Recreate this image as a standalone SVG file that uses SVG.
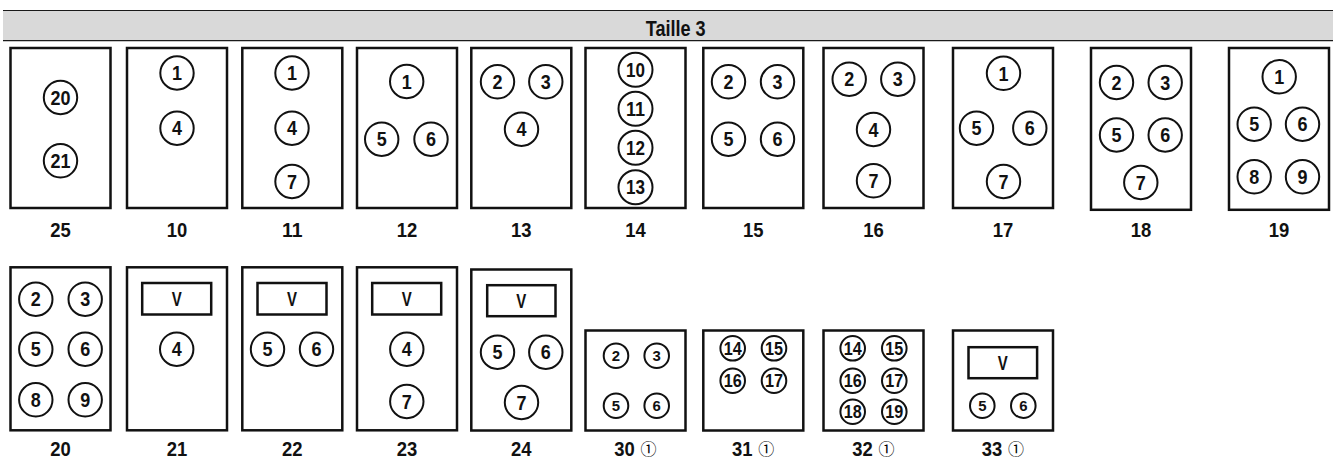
<svg xmlns="http://www.w3.org/2000/svg" width="1333" height="458" viewBox="0 0 1333 458">
<style>
.bg{fill:#fff}
.hdr{fill:#d9d9d9}
.hl{stroke:#1a1a1a;fill:none}
.box{fill:#fff;stroke:#111;stroke-width:2.5}
.v{fill:#fff;stroke:#111;stroke-width:2.5}
.c{fill:#fff;stroke:#111;stroke-width:2}
.n{font-family:"Liberation Sans",Arial,sans-serif;font-weight:bold;font-size:20px;text-anchor:middle;fill:#111}
.s{font-family:"Liberation Sans",Arial,sans-serif;font-weight:bold;font-size:15.5px;text-anchor:middle;fill:#111}
.s2{font-family:"Liberation Sans",Arial,sans-serif;font-weight:bold;font-size:17.5px;text-anchor:middle;fill:#111}
.lb{font-family:"Liberation Sans",Arial,sans-serif;font-weight:bold;font-size:21px;text-anchor:middle;fill:#111}
.o{font-family:"Noto Sans CJK JP","DejaVu Sans",sans-serif;font-size:16px;text-anchor:middle;fill:#000}
.t{font-family:"Liberation Sans",Arial,sans-serif;font-weight:bold;font-size:22px;text-anchor:middle;fill:#111}
</style>
<rect class="bg" x="0" y="0" width="1333" height="458"/>
<g id="header">
<rect class="hdr" x="3" y="10.5" width="1330" height="30"/>
<line class="hl" x1="3" y1="10.5" x2="1333" y2="10.5" stroke-width="1"/>
<line class="hl" x1="3" y1="40.6" x2="1333" y2="40.6" stroke-width="1.3"/>
<text class="t" x="675.7" y="35.8" textLength="60" lengthAdjust="spacingAndGlyphs">Taille 3</text>
</g>

<g id="box-25">
<rect class="box" x="10.5" y="48" width="100" height="160"/>
<circle class="c" cx="60.5" cy="97.5" r="16.7"/><text class="n" x="60.5" y="104.7" textLength="20" lengthAdjust="spacingAndGlyphs">20</text>
<circle class="c" cx="60.5" cy="160.8" r="16.7"/><text class="n" x="60.5" y="168" textLength="20" lengthAdjust="spacingAndGlyphs">21</text>
<text class="lb" x="60.5" y="237.3" textLength="20.5" lengthAdjust="spacingAndGlyphs">25</text>
</g>

<g id="box-10">
<rect class="box" x="127" y="48" width="100" height="160"/>
<circle class="c" cx="177" cy="73" r="16.7"/><text class="n" x="177" y="80.2" textLength="10" lengthAdjust="spacingAndGlyphs">1</text>
<circle class="c" cx="177" cy="128.2" r="16.7"/><text class="n" x="177" y="135.4" textLength="10" lengthAdjust="spacingAndGlyphs">4</text>
<text class="lb" x="177" y="237.3" textLength="20.5" lengthAdjust="spacingAndGlyphs">10</text>
</g>

<g id="box-11">
<rect class="box" x="242.3" y="48" width="100" height="160"/>
<circle class="c" cx="292" cy="73" r="16.7"/><text class="n" x="292" y="80.2" textLength="10" lengthAdjust="spacingAndGlyphs">1</text>
<circle class="c" cx="292" cy="128.2" r="16.7"/><text class="n" x="292" y="135.4" textLength="10" lengthAdjust="spacingAndGlyphs">4</text>
<circle class="c" cx="292" cy="181.5" r="16.7"/><text class="n" x="292" y="188.7" textLength="10" lengthAdjust="spacingAndGlyphs">7</text>
<text class="lb" x="292.3" y="237.3" textLength="20.5" lengthAdjust="spacingAndGlyphs">11</text>
</g>

<g id="box-12">
<rect class="box" x="357" y="48" width="100" height="160"/>
<circle class="c" cx="406.7" cy="81.5" r="16.7"/><text class="n" x="406.7" y="88.7" textLength="10" lengthAdjust="spacingAndGlyphs">1</text>
<circle class="c" cx="381.7" cy="139.2" r="16.7"/><text class="n" x="381.7" y="146.4" textLength="10" lengthAdjust="spacingAndGlyphs">5</text>
<circle class="c" cx="431" cy="139.2" r="16.7"/><text class="n" x="431" y="146.4" textLength="10" lengthAdjust="spacingAndGlyphs">6</text>
<text class="lb" x="407" y="237.3" textLength="20.5" lengthAdjust="spacingAndGlyphs">12</text>
</g>

<g id="box-13">
<rect class="box" x="471.3" y="48" width="100" height="160"/>
<circle class="c" cx="497.5" cy="81.8" r="16.7"/><text class="n" x="497.5" y="89" textLength="10" lengthAdjust="spacingAndGlyphs">2</text>
<circle class="c" cx="545.8" cy="81.8" r="16.7"/><text class="n" x="545.8" y="89" textLength="10" lengthAdjust="spacingAndGlyphs">3</text>
<circle class="c" cx="521.5" cy="129.2" r="16.7"/><text class="n" x="521.5" y="136.4" textLength="10" lengthAdjust="spacingAndGlyphs">4</text>
<text class="lb" x="521.3" y="237.3" textLength="20.5" lengthAdjust="spacingAndGlyphs">13</text>
</g>

<g id="box-14">
<rect class="box" x="585.5" y="48" width="100" height="160"/>
<circle class="c" cx="635.5" cy="69.7" r="17"/><text class="n" x="635.5" y="76.9" textLength="19" lengthAdjust="spacingAndGlyphs">10</text>
<circle class="c" cx="635.5" cy="108.8" r="17"/><text class="n" x="635.5" y="116" textLength="19" lengthAdjust="spacingAndGlyphs">11</text>
<circle class="c" cx="635.5" cy="147.8" r="17"/><text class="n" x="635.5" y="155" textLength="19" lengthAdjust="spacingAndGlyphs">12</text>
<circle class="c" cx="635.5" cy="187.2" r="17"/><text class="n" x="635.5" y="194.4" textLength="19" lengthAdjust="spacingAndGlyphs">13</text>
<text class="lb" x="635.5" y="237.3" textLength="20.5" lengthAdjust="spacingAndGlyphs">14</text>
</g>

<g id="box-15">
<rect class="box" x="703.3" y="48" width="100" height="160"/>
<circle class="c" cx="728.5" cy="81.8" r="16.7"/><text class="n" x="728.5" y="89" textLength="10" lengthAdjust="spacingAndGlyphs">2</text>
<circle class="c" cx="777.5" cy="81.8" r="16.7"/><text class="n" x="777.5" y="89" textLength="10" lengthAdjust="spacingAndGlyphs">3</text>
<circle class="c" cx="728.5" cy="139.2" r="16.7"/><text class="n" x="728.5" y="146.4" textLength="10" lengthAdjust="spacingAndGlyphs">5</text>
<circle class="c" cx="777.5" cy="139.2" r="16.7"/><text class="n" x="777.5" y="146.4" textLength="10" lengthAdjust="spacingAndGlyphs">6</text>
<text class="lb" x="753.3" y="237.3" textLength="20.5" lengthAdjust="spacingAndGlyphs">15</text>
</g>

<g id="box-16">
<rect class="box" x="823.5" y="48" width="100" height="160"/>
<circle class="c" cx="849.2" cy="79.2" r="16.7"/><text class="n" x="849.2" y="86.4" textLength="10" lengthAdjust="spacingAndGlyphs">2</text>
<circle class="c" cx="897.8" cy="79.2" r="16.7"/><text class="n" x="897.8" y="86.4" textLength="10" lengthAdjust="spacingAndGlyphs">3</text>
<circle class="c" cx="873.5" cy="129.5" r="16.7"/><text class="n" x="873.5" y="136.7" textLength="10" lengthAdjust="spacingAndGlyphs">4</text>
<circle class="c" cx="873.5" cy="180.8" r="16.7"/><text class="n" x="873.5" y="188" textLength="10" lengthAdjust="spacingAndGlyphs">7</text>
<text class="lb" x="873.5" y="237.3" textLength="20.5" lengthAdjust="spacingAndGlyphs">16</text>
</g>

<g id="box-17">
<rect class="box" x="953" y="48" width="100" height="160"/>
<circle class="c" cx="1003.5" cy="73.3" r="16.7"/><text class="n" x="1003.5" y="80.5" textLength="10" lengthAdjust="spacingAndGlyphs">1</text>
<circle class="c" cx="976.5" cy="128.2" r="16.7"/><text class="n" x="976.5" y="135.4" textLength="10" lengthAdjust="spacingAndGlyphs">5</text>
<circle class="c" cx="1029.8" cy="128.2" r="16.7"/><text class="n" x="1029.8" y="135.4" textLength="10" lengthAdjust="spacingAndGlyphs">6</text>
<circle class="c" cx="1003.5" cy="181.5" r="16.7"/><text class="n" x="1003.5" y="188.7" textLength="10" lengthAdjust="spacingAndGlyphs">7</text>
<text class="lb" x="1003" y="237.3" textLength="20.5" lengthAdjust="spacingAndGlyphs">17</text>
</g>

<g id="box-18">
<rect class="box" x="1091" y="48" width="100" height="161.8"/>
<circle class="c" cx="1116.5" cy="82.5" r="16.7"/><text class="n" x="1116.5" y="89.7" textLength="10" lengthAdjust="spacingAndGlyphs">2</text>
<circle class="c" cx="1165.2" cy="82.5" r="16.7"/><text class="n" x="1165.2" y="89.7" textLength="10" lengthAdjust="spacingAndGlyphs">3</text>
<circle class="c" cx="1116.5" cy="135" r="16.7"/><text class="n" x="1116.5" y="142.2" textLength="10" lengthAdjust="spacingAndGlyphs">5</text>
<circle class="c" cx="1165.2" cy="135" r="16.7"/><text class="n" x="1165.2" y="142.2" textLength="10" lengthAdjust="spacingAndGlyphs">6</text>
<circle class="c" cx="1140.8" cy="182.5" r="16.7"/><text class="n" x="1140.8" y="189.7" textLength="10" lengthAdjust="spacingAndGlyphs">7</text>
<text class="lb" x="1141" y="237.3" textLength="20.5" lengthAdjust="spacingAndGlyphs">18</text>
</g>

<g id="box-19">
<rect class="box" x="1229" y="48" width="100" height="161.8"/>
<circle class="c" cx="1279.2" cy="76.8" r="16.7"/><text class="n" x="1279.2" y="84" textLength="10" lengthAdjust="spacingAndGlyphs">1</text>
<circle class="c" cx="1254.2" cy="124.2" r="16.7"/><text class="n" x="1254.2" y="131.4" textLength="10" lengthAdjust="spacingAndGlyphs">5</text>
<circle class="c" cx="1302.5" cy="124.2" r="16.7"/><text class="n" x="1302.5" y="131.4" textLength="10" lengthAdjust="spacingAndGlyphs">6</text>
<circle class="c" cx="1254.2" cy="176.8" r="16.7"/><text class="n" x="1254.2" y="184" textLength="10" lengthAdjust="spacingAndGlyphs">8</text>
<circle class="c" cx="1302.5" cy="176.8" r="16.7"/><text class="n" x="1302.5" y="184" textLength="10" lengthAdjust="spacingAndGlyphs">9</text>
<text class="lb" x="1279" y="237.3" textLength="20.5" lengthAdjust="spacingAndGlyphs">19</text>
</g>

<g id="box-20">
<rect class="box" x="10.5" y="267.3" width="100" height="163"/>
<circle class="c" cx="35.8" cy="299.2" r="16.7"/><text class="n" x="35.8" y="306.4" textLength="10" lengthAdjust="spacingAndGlyphs">2</text>
<circle class="c" cx="85.2" cy="299.2" r="16.7"/><text class="n" x="85.2" y="306.4" textLength="10" lengthAdjust="spacingAndGlyphs">3</text>
<circle class="c" cx="35.8" cy="349.2" r="16.7"/><text class="n" x="35.8" y="356.4" textLength="10" lengthAdjust="spacingAndGlyphs">5</text>
<circle class="c" cx="85.2" cy="349.2" r="16.7"/><text class="n" x="85.2" y="356.4" textLength="10" lengthAdjust="spacingAndGlyphs">6</text>
<circle class="c" cx="35.8" cy="399.8" r="16.7"/><text class="n" x="35.8" y="407" textLength="10" lengthAdjust="spacingAndGlyphs">8</text>
<circle class="c" cx="85.2" cy="399.8" r="16.7"/><text class="n" x="85.2" y="407" textLength="10" lengthAdjust="spacingAndGlyphs">9</text>
<text class="lb" x="60.5" y="456.3" textLength="20.5" lengthAdjust="spacingAndGlyphs">20</text>
</g>

<g id="box-21">
<rect class="box" x="127" y="267.3" width="100" height="163"/>
<rect class="v" x="142.2" y="283" width="69" height="31.5"/><text class="n" x="176.7" y="305.6" textLength="10" lengthAdjust="spacingAndGlyphs">V</text>
<circle class="c" cx="176.7" cy="349.2" r="16.7"/><text class="n" x="176.7" y="356.4" textLength="10" lengthAdjust="spacingAndGlyphs">4</text>
<text class="lb" x="177" y="456.3" textLength="20.5" lengthAdjust="spacingAndGlyphs">21</text>
</g>

<g id="box-22">
<rect class="box" x="242.3" y="267.3" width="100" height="163"/>
<rect class="v" x="257.5" y="283" width="69" height="31.5"/><text class="n" x="292" y="305.6" textLength="10" lengthAdjust="spacingAndGlyphs">V</text>
<circle class="c" cx="267.5" cy="349.2" r="16.7"/><text class="n" x="267.5" y="356.4" textLength="10" lengthAdjust="spacingAndGlyphs">5</text>
<circle class="c" cx="316.5" cy="349.2" r="16.7"/><text class="n" x="316.5" y="356.4" textLength="10" lengthAdjust="spacingAndGlyphs">6</text>
<text class="lb" x="292.3" y="456.3" textLength="20.5" lengthAdjust="spacingAndGlyphs">22</text>
</g>

<g id="box-23">
<rect class="box" x="357" y="267.3" width="100" height="163"/>
<rect class="v" x="372.2" y="283" width="69" height="31.5"/><text class="n" x="406.7" y="305.6" textLength="10" lengthAdjust="spacingAndGlyphs">V</text>
<circle class="c" cx="406.8" cy="349.2" r="16.7"/><text class="n" x="406.8" y="356.4" textLength="10" lengthAdjust="spacingAndGlyphs">4</text>
<circle class="c" cx="406.8" cy="401.5" r="16.7"/><text class="n" x="406.8" y="408.7" textLength="10" lengthAdjust="spacingAndGlyphs">7</text>
<text class="lb" x="407" y="456.3" textLength="20.5" lengthAdjust="spacingAndGlyphs">23</text>
</g>

<g id="box-24">
<rect class="box" x="471.3" y="269.5" width="100" height="161"/>
<rect class="v" x="487.2" y="285.2" width="68.3" height="31"/><text class="n" x="521.3" y="307.6" textLength="10" lengthAdjust="spacingAndGlyphs">V</text>
<circle class="c" cx="497.5" cy="352.2" r="16.7"/><text class="n" x="497.5" y="359.4" textLength="10" lengthAdjust="spacingAndGlyphs">5</text>
<circle class="c" cx="545.8" cy="352.2" r="16.7"/><text class="n" x="545.8" y="359.4" textLength="10" lengthAdjust="spacingAndGlyphs">6</text>
<circle class="c" cx="521.5" cy="402.5" r="16.7"/><text class="n" x="521.5" y="409.7" textLength="10" lengthAdjust="spacingAndGlyphs">7</text>
<text class="lb" x="521.3" y="456.3" textLength="20.5" lengthAdjust="spacingAndGlyphs">24</text>
</g>

<g id="box-30">
<rect class="box" x="585.5" y="330.5" width="100" height="100"/>
<circle class="c" cx="616" cy="355.7" r="12.3"/><text class="s" x="616" y="361.3" textLength="8.3" lengthAdjust="spacingAndGlyphs">2</text>
<circle class="c" cx="656.7" cy="355.7" r="12.3"/><text class="s" x="656.7" y="361.3" textLength="8.3" lengthAdjust="spacingAndGlyphs">3</text>
<circle class="c" cx="616" cy="405.7" r="12.3"/><text class="s" x="616" y="411.3" textLength="8.3" lengthAdjust="spacingAndGlyphs">5</text>
<circle class="c" cx="656.7" cy="405.7" r="12.3"/><text class="s" x="656.7" y="411.3" textLength="8.3" lengthAdjust="spacingAndGlyphs">6</text>
<text class="lb" x="624.5" y="456.3" textLength="20.5" lengthAdjust="spacingAndGlyphs">30</text>
<text class="o" x="648.5" y="455">①</text>
</g>

<g id="box-31">
<rect class="box" x="703.3" y="330.5" width="100" height="100"/>
<circle class="c" cx="732.7" cy="348.3" r="12.3"/><text class="s2" x="732.7" y="354.6" textLength="18" lengthAdjust="spacingAndGlyphs">14</text>
<circle class="c" cx="774" cy="348.3" r="12.3"/><text class="s2" x="774" y="354.6" textLength="18" lengthAdjust="spacingAndGlyphs">15</text>
<circle class="c" cx="732.7" cy="380.7" r="12.3"/><text class="s2" x="732.7" y="387" textLength="18" lengthAdjust="spacingAndGlyphs">16</text>
<circle class="c" cx="774" cy="380.7" r="12.3"/><text class="s2" x="774" y="387" textLength="18" lengthAdjust="spacingAndGlyphs">17</text>
<text class="lb" x="742.3" y="456.3" textLength="20.5" lengthAdjust="spacingAndGlyphs">31</text>
<text class="o" x="766.3" y="455">①</text>
</g>

<g id="box-32">
<rect class="box" x="823.5" y="330.5" width="100" height="100"/>
<circle class="c" cx="852.7" cy="348.3" r="12.3"/><text class="s2" x="852.7" y="354.6" textLength="18" lengthAdjust="spacingAndGlyphs">14</text>
<circle class="c" cx="894.3" cy="348.3" r="12.3"/><text class="s2" x="894.3" y="354.6" textLength="18" lengthAdjust="spacingAndGlyphs">15</text>
<circle class="c" cx="852.7" cy="380.7" r="12.3"/><text class="s2" x="852.7" y="387" textLength="18" lengthAdjust="spacingAndGlyphs">16</text>
<circle class="c" cx="894.3" cy="380.7" r="12.3"/><text class="s2" x="894.3" y="387" textLength="18" lengthAdjust="spacingAndGlyphs">17</text>
<circle class="c" cx="852.7" cy="411.7" r="12.3"/><text class="s2" x="852.7" y="418" textLength="18" lengthAdjust="spacingAndGlyphs">18</text>
<circle class="c" cx="894.3" cy="411.7" r="12.3"/><text class="s2" x="894.3" y="418" textLength="18" lengthAdjust="spacingAndGlyphs">19</text>
<text class="lb" x="862.5" y="456.3" textLength="20.5" lengthAdjust="spacingAndGlyphs">32</text>
<text class="o" x="886.5" y="455">①</text>
</g>

<g id="box-33">
<rect class="box" x="953" y="330.5" width="100" height="100"/>
<rect class="v" x="968.5" y="347.2" width="68.6" height="31"/><text class="n" x="1002.8" y="369.6" textLength="10" lengthAdjust="spacingAndGlyphs">V</text>
<circle class="c" cx="982.3" cy="405.7" r="12.3"/><text class="s" x="982.3" y="411.3" textLength="8.3" lengthAdjust="spacingAndGlyphs">5</text>
<circle class="c" cx="1023.3" cy="405.7" r="12.3"/><text class="s" x="1023.3" y="411.3" textLength="8.3" lengthAdjust="spacingAndGlyphs">6</text>
<text class="lb" x="992" y="456.3" textLength="20.5" lengthAdjust="spacingAndGlyphs">33</text>
<text class="o" x="1016" y="455">①</text>
</g>
</svg>
